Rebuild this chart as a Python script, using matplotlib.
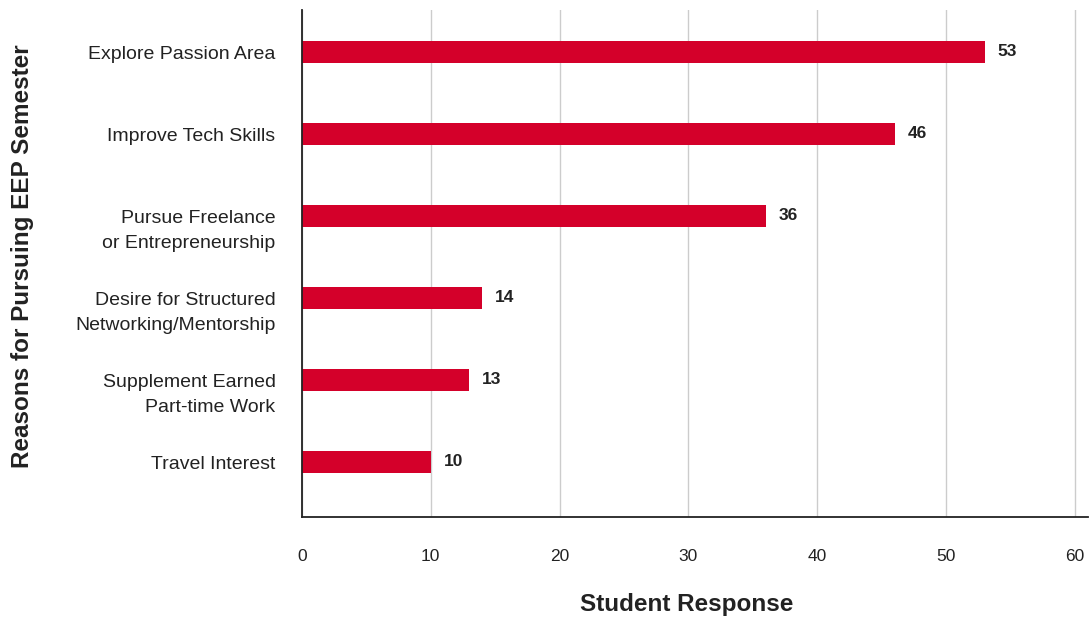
import matplotlib
matplotlib.use("Agg")
import matplotlib.pyplot as plt

plt.rcParams['font.family'] = ['Liberation Sans', 'DejaVu Sans']

reasons = ["Explore Passion Area",
           "Improve Tech Skills",
           "Pursue Freelance\nor Entrepreneurship",
           "Desire for Structured\nNetworking/Mentorship",
           "Supplement Earned\nPart-time Work",
           "Travel Interest"]
responses = [53, 46, 36, 14, 13, 10]
xticks = [0, 10, 20, 30, 40, 50, 60]

bar_color = "#d4002a"
text_color = "#222222"

fig = plt.figure(figsize=(10.9, 6.19), dpi=100)
ax = fig.add_axes([0.277, 0.165, 0.721, 0.819])

pos = list(range(len(reasons)))
ax.barh(pos, responses, height=0.27, color=bar_color, zorder=3)
for p, v in zip(pos, responses):
    ax.text(v + 1.0, p, str(v), va="center", ha="left", fontsize=12.5,
            fontweight="bold", color=text_color)

# category labels: first line sits level with the bar
for p, r in zip(pos, reasons):
    ax.annotate(r, xy=(0, p), xycoords=("axes fraction", "data"),
                xytext=(-19, 4), textcoords="offset points",
                ha="right", va="top", fontsize=14, color=text_color,
                linespacing=1.6, annotation_clip=False)

ax.set_ylim(5.67, -0.51)
ax.set_xlim(0, 61)
ax.set_xticks(xticks)
ax.set_yticks(pos)
ax.set_yticklabels([])
ax.tick_params(axis="x", length=0, pad=23, labelsize=12.5, labelcolor=text_color)
ax.tick_params(axis="y", length=0)

ax.grid(axis="x", color="#cccccc", linewidth=1.0, zorder=0)
for s in ["top", "right"]:
    ax.spines[s].set_visible(False)
for s in ["left", "bottom"]:
    ax.spines[s].set_color("#222222")
    ax.spines[s].set_linewidth(1.3)
    ax.spines[s].set_zorder(4)

ax.set_xlabel("Student Response", fontsize=17.5, fontweight="bold", color=text_color)
ax.xaxis.set_label_coords(0.49, -0.172)
ax.xaxis.label.set_va("center")
ax.set_ylabel("Reasons for Pursuing EEP Semester", fontsize=17.5, fontweight="bold",
              color=text_color)
ax.yaxis.set_label_coords(-0.356, 0.515)
ax.yaxis.label.set_va("center")

fig.savefig("out.png", dpi=100)
